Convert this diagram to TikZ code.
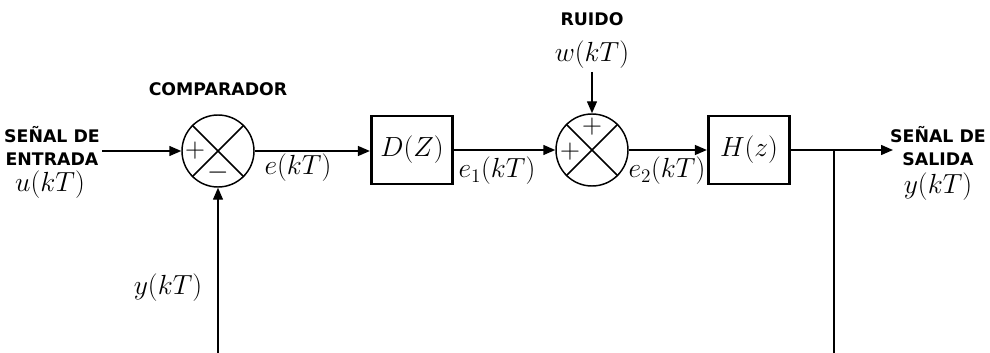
\documentclass[tikz,border=0pt]{standalone}
\usepackage{fontspec}
\newfontfamily\lab{DejaVu Sans}[BoldFont={DejaVu Sans Bold}]
\usetikzlibrary{arrows.meta}
\begin{document}
\begin{tikzpicture}[x=0.75pt,y=-0.75pt,
  wire/.style={line width=1.1pt},
  arr/.style={wire,-{Triangle[length=9pt,width=7.5pt]}},
  sumj/.style={circle,draw,line width=1.1pt,minimum size=54pt,inner sep=0pt},
  blk/.style={draw,line width=2.2pt,minimum width=61pt,minimum height=51pt,inner sep=0pt,font=\fontsize{19.5}{21}\selectfont},
  title/.style={font=\lab\bfseries\fontsize{13}{15}\selectfont,inner sep=0pt,align=center},
  mlab/.style={font=\fontsize{19.5}{21}\selectfont,inner sep=0pt},
  sgn/.style={font=\fontsize{19.5}{21}\selectfont,inner sep=0pt}]
\useasboundingbox (0,0) rectangle (990,353);
% summing junctions
\node[sumj] (c1) at (218,151) {};
\node[sumj] (c2) at (592,150) {};
\foreach \c in {c1,c2}{
  \draw[wire] (\c.45) -- (\c.225);
  \draw[wire] (\c.135) -- (\c.-45);
}
\node[sgn] (p1) at (195,151) {$+$};
\node[sgn] (m1) at (218,173) {$-$};
\node[sgn] (p2) at (592,127) {$+$};
\node[sgn] (p3) at (570,152) {$+$};
% blocks
\node[blk] (d) at (412,150) {$D(Z)$};
\node[blk] (h) at (749,150) {$H(z)$};
% texts
\node[title] (in) at (52,146) {SEÑAL DE\\[2pt]ENTRADA};
\node[mlab] (u) at (50,185) {$u(kT)$};
\node[title] (comp) at (218,89) {COMPARADOR};
\node[title] (ruido) at (592,19) {RUIDO};
\node[mlab] (w) at (592,55) {$w(kT)$};
\node[title] (out) at (938,146) {SEÑAL DE\\[2pt]SALIDA};
\node[mlab] (y) at (938,187) {$y(kT)$};
\node[mlab] (yf) at (168,288) {$y(kT)$};
\node[mlab] (e) at (298,168) {$e(kT)$};
\node[mlab] (e1) at (497,171) {$e_1(kT)$};
\node[mlab] (e2) at (667,171) {$e_2(kT)$};
% coordinates
\coordinate (inS) at (102,151);
\coordinate (outE) at (893,150);
\coordinate (br) at (834,150);
\coordinate (brB) at (834,353);
\coordinate (fbB) at (218,353);
\coordinate (wS) at (592,72);
% connectors
\draw[arr] (inS) -- (c1.west);
\draw[arr] (c1.east) -- (d.west |- c1.east);
\draw[arr] (d.east) -- (c2.west);
\draw[arr] (c2.east) -- (h.west);
\draw[arr] (h.east) -- (outE);
\draw[wire] (br) -- (brB);
\draw[arr] (fbB) -- (c1.south);
\draw[arr] (wS) -- (c2.north);
\end{tikzpicture}
\end{document}
